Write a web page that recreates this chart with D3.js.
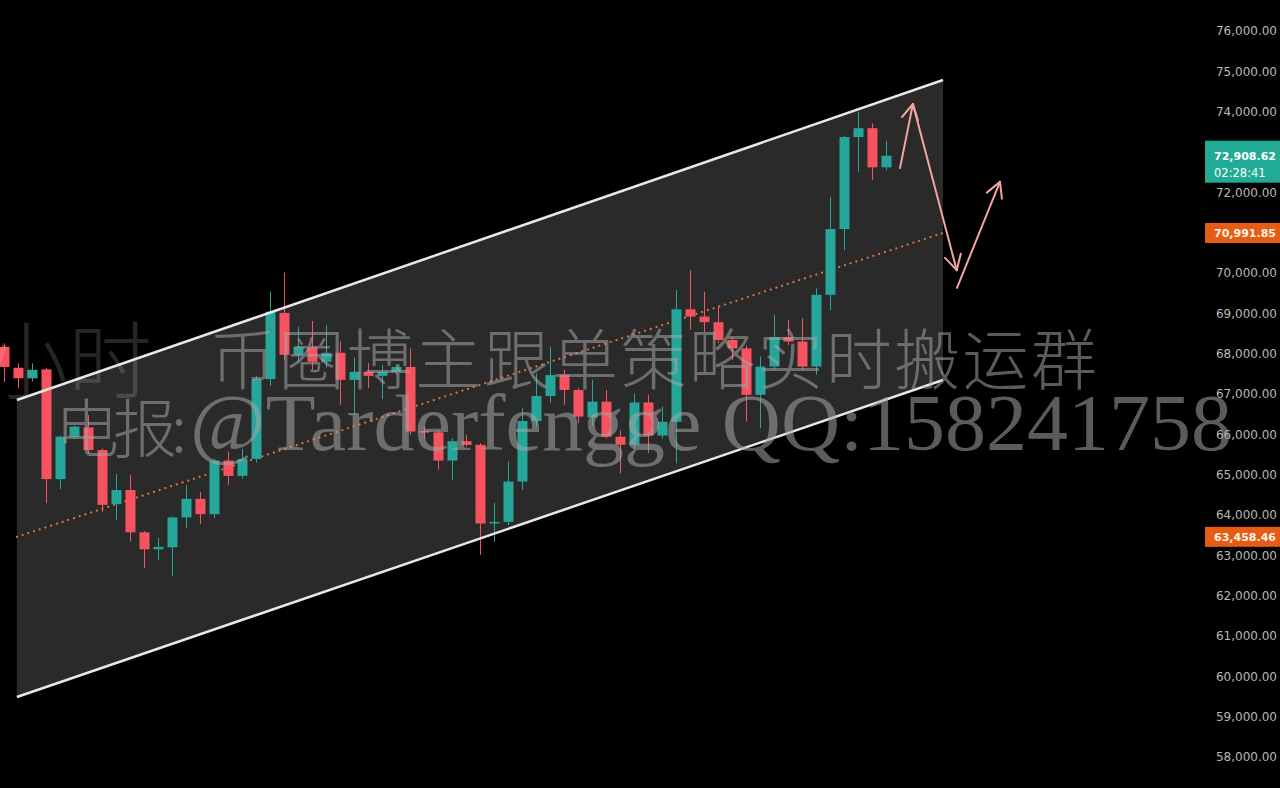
<!DOCTYPE html>
<html>
<head>
<meta charset="utf-8">
<script src="https://cdn.jsdelivr.net/npm/d3@7/dist/d3.min.js"></script>
<style>
html, body { margin: 0; padding: 0; background: #000; overflow: hidden; }
</style>
</head>
<body>
<script>
'use strict';

// one entry per 1h bar, oldest first
const opens  = [68170, 67650, 67390, 67610, 64890, 65940, 66170, 65610, 64270, 64620,
                63570, 63150, 63200, 63940, 64400, 64020, 65350, 64970, 65390, 67370,
                69010, 67970, 68160, 67800, 68020, 67350, 67550, 67450, 67550, 67670,
                66080, 66050, 65350, 65830, 65740, 63790, 63830, 64830, 66330, 66950,
                67470, 67100, 66420, 66810, 65940, 65740, 66790, 65970, 66310, 69100,
                68920, 68780, 68340, 68130, 66980, 67680, 68410, 68300, 67680, 69460,
                71090, 73370, 73590, 72620]
const highs  = [68220, 67760, 67760, 67650, 65960, 66220, 66480, 65650, 65020, 64990,
                63600, 63430, 63960, 64740, 64570, 65400, 65570, 65640, 67450, 69540,
                70010, 68670, 68810, 68710, 68300, 67900, 67770, 67720, 67720, 68130,
                66200, 66100, 65900, 65980, 65780, 64300, 65320, 66650, 67510, 68170,
                67600, 67150, 67350, 67100, 66100, 67020, 66980, 66690, 69580, 70070,
                69540, 69170, 68400, 68200, 67930, 68960, 68840, 68880, 69620, 71890,
                73400, 74000, 73710, 73280]
const lows   = [67300, 67140, 67310, 64290, 64640, 65900, 65530, 64080, 63880, 63340,
                62680, 62880, 62490, 63680, 63780, 63930, 64740, 64900, 65300, 67200,
                67850, 67800, 67600, 67650, 66730, 66480, 67150, 66870, 67480, 65980,
                65900, 65120, 64870, 65700, 63010, 63340, 63750, 64620, 66200, 66780,
                66730, 66280, 66210, 65900, 65030, 65650, 65540, 65900, 65280, 68590,
                68540, 68260, 67840, 66310, 66150, 67600, 68220, 67600, 67470, 69080,
                70570, 72510, 72310, 72550]
const closes = [67670, 67390, 67600, 64890, 65940, 66190, 65610, 64250, 64620, 63570,
                63150, 63210, 63940, 64400, 64020, 65350, 64970, 65390, 67370, 69040,
                67970, 68160, 67800, 68020, 67350, 67550, 67450, 67550, 67670, 66070,
                66050, 65350, 65830, 65740, 63790, 63830, 64830, 66330, 66950, 67470,
                67100, 66440, 66810, 65940, 65740, 66790, 65970, 66310, 69100, 68920,
                68780, 68340, 68130, 66980, 67680, 68410, 68300, 67680, 69460, 71090,
                73370, 73590, 72620, 72908.62]

const priceTicks = [58000, 59000, 60000, 61000, 62000, 63000, 64000, 65000, 66000,
                    67000, 68000, 69000, 70000, 71000, 72000, 73000, 74000, 75000, 76000]

// parallel channel drawn on the chart: [bar index, price]
const channelTop = [[0.9, 66851], [67.05, 74785]]
const channelBottom = [[0.9, 59488], [67.05, 67347]]
const channelMid = [[0.9, 63458.46], [67.05, 70991.85]]

// hand drawn arrows: [bar index, price] from -> to
const arrows = [
    [[63.98, 72600], [64.9, 74190]],
    [[64.9, 74190], [68.03, 70070]],
    [[68.05, 69630], [71.12, 72260]]
]

const lastPrice = 72908.62
const countdown = "02:28:41"

const wmDim = "1小时"
const wmLine1 = "币圈博主跟单策略实时搬运群"
const wmLine2a = "电报:"
const wmLine2b = "@Tarderfengge QQ:158241758"

const upColor = "#26a69a"
const downColor = "#f7525f"
const midColor = "#e0763a"
const arrowColor = "#f5a3a3"

window.onload = function () {
    const svg = d3.select("body").append("svg")
        .attr("width", 1280)
        .attr("height", 788)
        .style("display", "block")
        .style("background", "#000")

    const x = d3.scaleLinear().domain([0, 63]).range([4.3, 886.3])
    const y = d3.scaleLinear().domain([58000, 76000]).range([757, 31])

    // channel background
    const poly = [channelTop[0], channelTop[1], channelBottom[1], channelBottom[0]]
    svg.append("polygon")
        .attr("points", poly.map(p => x(p[0]) + "," + y(p[1])).join(" "))
        .attr("fill", "#2a2a2a")

    const line = d3.line().x(d => x(d[0])).y(d => y(d[1]))

    svg.append("path")
        .attr("d", line(channelMid))
        .attr("fill", "none")
        .attr("stroke", midColor)
        .attr("stroke-width", 2.2)
        .attr("stroke-linecap", "round")
        .attr("stroke-dasharray", "0.01,6")

    // candles
    const bars = d3.range(opens.length).map(i => ({
        i: i, o: opens[i], h: highs[i], l: lows[i], c: closes[i]
    }))

    const candle = svg.append("g").attr("id", "candles")
        .selectAll("g")
        .data(bars)
        .enter()
        .append("g")

    candle.append("line")
        .attr("x1", d => Math.round(x(d.i)) + 0.5)
        .attr("x2", d => Math.round(x(d.i)) + 0.5)
        .attr("y1", d => y(d.h))
        .attr("y2", d => y(d.l))
        .attr("stroke", d => d.c >= d.o ? upColor : downColor)
        .attr("stroke-width", 1)

    candle.append("rect")
        .attr("x", d => Math.round(x(d.i)) - 4.5)
        .attr("width", 10)
        .attr("y", d => y(Math.max(d.o, d.c)))
        .attr("height", d => Math.max(1.5, Math.abs(y(d.o) - y(d.c))))
        .attr("fill", d => d.c >= d.o ? upColor : downColor)

    // channel borders
    ;[channelTop, channelBottom].forEach(function (seg) {
        svg.append("path")
            .attr("d", line(seg))
            .attr("fill", "none")
            .attr("stroke", "#e8e8e8")
            .attr("stroke-width", 2.5)
    })

    // arrows
    const ag = svg.append("g").attr("id", "arrows")
    arrows.forEach(function (a) {
        const x1 = x(a[0][0]), y1 = y(a[0][1]), x2 = x(a[1][0]), y2 = y(a[1][1])
        ag.append("line")
            .attr("x1", x1).attr("y1", y1).attr("x2", x2).attr("y2", y2)
            .attr("stroke", arrowColor).attr("stroke-width", 2)
            .attr("stroke-linecap", "round")
        const ang = Math.atan2(y1 - y2, x1 - x2)
        ;[-0.5, 0.5].forEach(function (da) {
            ag.append("line")
                .attr("x1", x2).attr("y1", y2)
                .attr("x2", x2 + 17 * Math.cos(ang + da))
                .attr("y2", y2 + 17 * Math.sin(ang + da))
                .attr("stroke", arrowColor).attr("stroke-width", 2)
                .attr("stroke-linecap", "round")
        })
    })

    // price scale
    const axis = svg.append("g")
        .attr("transform", "translate(1277,0)")
        .call(d3.axisLeft(y)
            .tickValues(priceTicks)
            .tickFormat(d3.format(",.2f"))
            .tickSize(0)
            .tickPadding(0))
    axis.select(".domain").remove()
    axis.selectAll("text")
        .attr("fill", "#b8b8b8")
        .attr("font-family", "DejaVu Sans, sans-serif")
        .attr("font-size", "12px")

    // price tags
    const tagFont = "DejaVu Sans, sans-serif"
    const ly = y(lastPrice)
    svg.append("rect")
        .attr("x", 1205).attr("y", ly - 15)
        .attr("width", 75).attr("height", 42)
        .attr("fill", "#22ab94")
    svg.append("text")
        .attr("x", 1214).attr("y", ly + 4)
        .attr("font-family", tagFont).attr("font-size", "11px").attr("font-weight", "bold")
        .attr("fill", "#ffffff")
        .text(d3.format(",.2f")(lastPrice))
    svg.append("text")
        .attr("x", 1214).attr("y", ly + 21)
        .attr("font-family", tagFont).attr("font-size", "11.5px")
        .attr("fill", "#ffffff")
        .text(countdown)

    ;[channelMid[1][1], channelMid[0][1]].forEach(function (p) {
        svg.append("rect")
            .attr("x", 1205).attr("y", y(p) - 10)
            .attr("width", 75).attr("height", 20)
            .attr("fill", "#e65c14")
        svg.append("text")
            .attr("x", 1214).attr("y", y(p) + 4)
            .attr("font-family", tagFont).attr("font-size", "11px").attr("font-weight", "bold")
            .attr("fill", "#fff3ea")
            .text(d3.format(",.2f")(p))
    })

    // watermark
    const wm = svg.append("g").attr("id", "watermark")
    wm.append("text")
        .attr("x", 152).attr("y", 392)
        .attr("text-anchor", "end")
        .attr("font-family", "'Noto Sans CJK SC', sans-serif")
        .attr("font-size", "84px").attr("font-weight", 300)
        .attr("fill", "rgba(255,255,255,0.15)")
        .text(wmDim)
    wm.append("text")
        .attr("x", 210).attr("y", 384)
        .attr("textLength", 887).attr("lengthAdjust", "spacing")
        .attr("font-family", "'Noto Sans CJK SC', sans-serif")
        .attr("font-size", "66px").attr("font-weight", 300)
        .attr("fill", "rgba(165,165,165,0.55)")
        .text(wmLine1)
    wm.append("text")
        .attr("x", 55).attr("y", 452)
        .attr("textLength", 132).attr("lengthAdjust", "spacing")
        .attr("font-family", "'Noto Sans CJK SC', sans-serif")
        .attr("font-size", "64px").attr("font-weight", 300)
        .attr("fill", "rgba(165,165,165,0.55)")
        .text(wmLine2a)
    wm.append("text")
        .attr("x", 190).attr("y", 450)
        .attr("textLength", 1042).attr("lengthAdjust", "spacingAndGlyphs")
        .attr("font-family", "'Liberation Serif', serif")
        .attr("font-size", "80px")
        .attr("fill", "rgba(165,165,165,0.55)")
        .text(wmLine2b)
}
</script>
</body>
</html>
